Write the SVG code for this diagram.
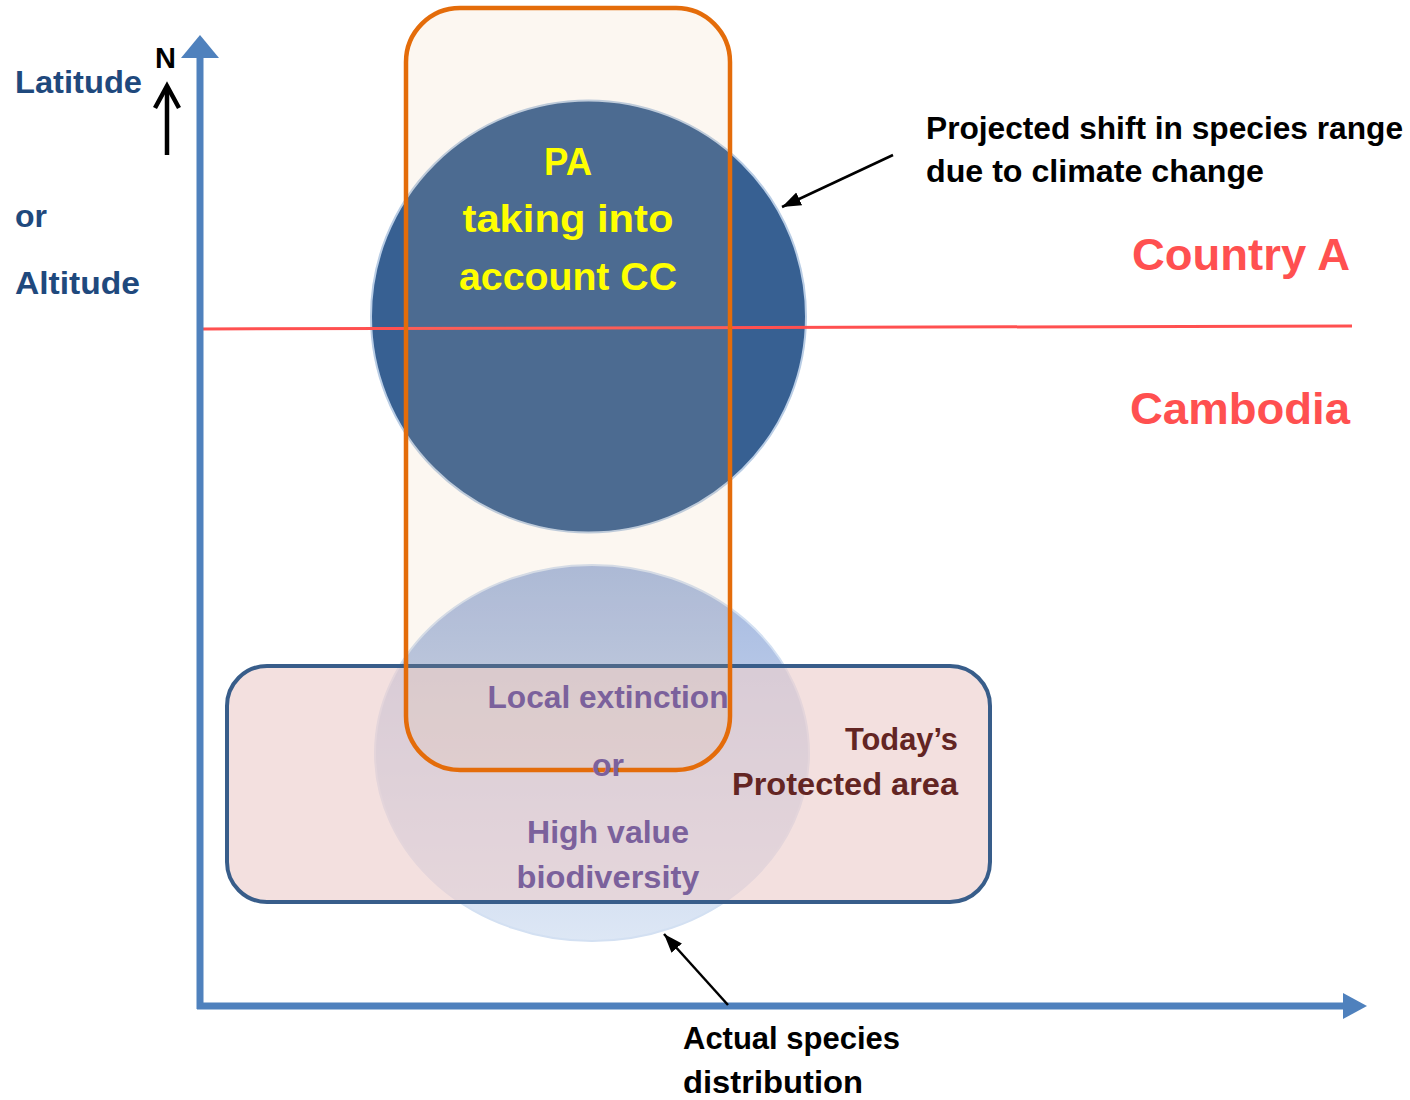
<svg xmlns="http://www.w3.org/2000/svg" width="1410" height="1100" viewBox="0 0 1410 1100">
<style>
text{font-family:"Liberation Sans",Arial,sans-serif;font-weight:bold}
.axis-lbl{fill:#1F497D;font-size:32px}
.yel{fill:#FFFF00;font-size:39px;text-anchor:middle}
.blk{fill:#000;font-size:32px}
.red{fill:#FF5050;font-size:45px}
.pur{fill:#7B619C;font-size:32px;text-anchor:middle}
.dred{fill:#632523;font-size:32px;text-anchor:end}
.axis{stroke:#4F81BD;stroke-width:7;fill:none}
.ann{stroke:#000;stroke-width:2.5;fill:none}
</style>
<defs>
<marker id="ah" markerUnits="userSpaceOnUse" markerWidth="20" markerHeight="16" refX="19" refY="8" orient="auto">
<path d="M0,1 L19,8 L0,15 z" fill="#000"/>
</marker>
<linearGradient id="eg" x1="0" y1="0" x2="0" y2="1">
<stop offset="0" stop-color="#A5B9E0"/>
<stop offset="1" stop-color="#DDE7F5"/>
</linearGradient>
</defs>

<g id="shifted-range">
<ellipse cx="588.5" cy="316.5" rx="217.5" ry="216" fill="#376092" stroke="#B9CDE5" stroke-width="2"/>
</g>

<g id="actual-distribution">
<ellipse cx="592" cy="753" rx="217" ry="188" fill="url(#eg)" stroke="#D3E0F2" stroke-width="2"/>
</g>

<g id="todays-pa">
<rect x="227" y="666" width="763" height="236" rx="40" ry="40" fill="#ECCFCE" fill-opacity="0.65" stroke="#385D8A" stroke-width="4"/>
</g>

<g id="border">
<line x1="203" y1="329" x2="1352" y2="326" stroke="#FF5050" stroke-width="3"/>
</g>

<g id="pa-cc">
<rect x="406" y="8" width="324" height="762" rx="54" ry="54" fill="#E6BC8A" fill-opacity="0.12" stroke="#E46C0A" stroke-width="4.5"/>
</g>

<g id="connectors">
<line class="axis" x1="200" y1="1009" x2="200" y2="56"/>
<polygon points="200,35 181,58 219,58" fill="#4F81BD"/>
<line class="axis" x1="197" y1="1006" x2="1345" y2="1006"/>
<polygon points="1367,1006 1343,993 1343,1019" fill="#4F81BD"/>
<line x1="167" y1="155" x2="167" y2="87" stroke="#000" stroke-width="4.5"/>
<polyline points="155,108 167,86 179,108" fill="none" stroke="#000" stroke-width="4.5"/>
<line class="ann" x1="893" y1="155" x2="782" y2="207" marker-end="url(#ah)"/>
<line class="ann" x1="728" y1="1005" x2="664" y2="934" marker-end="url(#ah)"/>
</g>

<g id="labels">
<text class="axis-lbl" x="15" y="93" textLength="127" lengthAdjust="spacingAndGlyphs">Latitude</text>
<text x="155" y="68" font-size="29" fill="#000">N</text>
<text class="axis-lbl" x="15" y="227">or</text>
<text class="axis-lbl" x="15" y="294" textLength="125" lengthAdjust="spacingAndGlyphs">Altitude</text>

<text class="yel" x="568" y="175" textLength="48" lengthAdjust="spacingAndGlyphs">PA</text>
<text class="yel" x="568" y="232" textLength="211" lengthAdjust="spacingAndGlyphs">taking into</text>
<text class="yel" x="568" y="290" textLength="218" lengthAdjust="spacingAndGlyphs">account CC</text>

<text class="blk" x="926" y="139" textLength="477" lengthAdjust="spacingAndGlyphs">Projected shift in species range</text>
<text class="blk" x="926" y="182" textLength="338" lengthAdjust="spacingAndGlyphs">due to climate change</text>

<text class="red" x="1132" y="270" textLength="218" lengthAdjust="spacingAndGlyphs">Country A</text>
<text class="red" x="1130" y="424" textLength="220" lengthAdjust="spacingAndGlyphs">Cambodia</text>

<text class="pur" x="608" y="708" textLength="241" lengthAdjust="spacingAndGlyphs">Local extinction</text>
<text class="pur" x="608" y="776">or</text>
<text class="pur" x="608" y="843" textLength="162" lengthAdjust="spacingAndGlyphs">High value</text>
<text class="pur" x="608" y="888" textLength="183" lengthAdjust="spacingAndGlyphs">biodiversity</text>

<text class="dred" x="958" y="750" textLength="113" lengthAdjust="spacingAndGlyphs">Today’s</text>
<text class="dred" x="958" y="795" textLength="226" lengthAdjust="spacingAndGlyphs">Protected area</text>

<text class="blk" x="683" y="1049" textLength="217" lengthAdjust="spacingAndGlyphs">Actual species</text>
<text class="blk" x="683" y="1093" textLength="180" lengthAdjust="spacingAndGlyphs">distribution</text>
</g>
</svg>
